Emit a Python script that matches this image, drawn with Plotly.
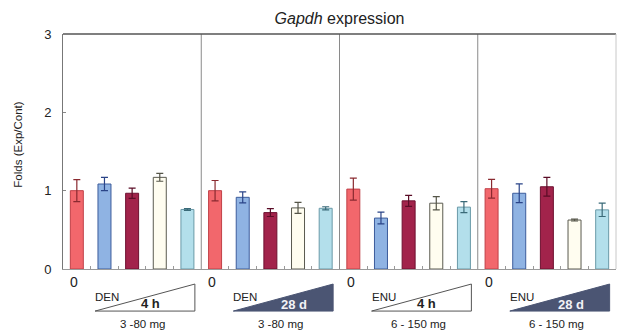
import plotly.graph_objects as go

# Panels: treatment x exposure time
panel_agents = ["DEN", "DEN", "ENU", "ENU"]
panel_times = ["4 h", "28 d", "4 h", "28 d"]
panel_doses = ["3 -80 mg", "3 -80 mg", "6 - 150 mg", "6 - 150 mg"]

# Fold change (Exp/Cont) per dose level, one value per panel
dose0 = [1.00, 1.00, 1.02, 1.025]
dose1 = [1.085, 0.915, 0.65, 0.967]
dose2 = [0.967, 0.72, 0.87, 1.05]
dose3 = [1.17, 0.78, 0.84, 0.625]
dose4 = [0.76, 0.775, 0.79, 0.755]

# Standard errors
err0 = [0.14, 0.13, 0.14, 0.12]
err1 = [0.085, 0.07, 0.075, 0.12]
err2 = [0.065, 0.05, 0.07, 0.12]
err3 = [0.05, 0.07, 0.085, 0.012]
err4 = [0.012, 0.02, 0.07, 0.085]

series = [dose0, dose1, dose2, dose3, dose4]
errors = [err0, err1, err2, err3, err4]

fills = ["#f2676c", "#8fb3e3", "#a2234b", "#fffdf0", "#b3dfeb"]
outlines = ["#c04048", "#3c5c9c", "#6e1030", "#5a5a50", "#6a9aa8"]
err_colors = ["#8a2a30", "#2a4488", "#5a0c26", "#555548", "#3a6a78"]

n_levels = len(series)
n_panels = len(panel_agents)

fig = go.Figure()
for i, (vals, errs) in enumerate(zip(series, errors)):
    xs = [p * n_levels + i for p in range(n_panels)]
    fig.add_trace(go.Bar(
        x=xs, y=vals, width=0.47,
        marker=dict(color=fills[i], line=dict(color=outlines[i], width=1)),
        error_y=dict(type="data", array=errs, color=err_colors[i],
                     thickness=1.2, width=3.5),
        showlegend=False,
    ))

shapes = []
annotations = []


def label(x, y, text, size, color="#222", xref="x"):
    annotations.append(dict(x=x, y=y, xref=xref, yref="paper", text=text,
                            showarrow=False, xanchor="center",
                            yanchor="middle",
                            font=dict(size=size, color=color)))


# panel dividers
for p in range(1, n_panels):
    xb = p * n_levels - 0.5
    shapes.append(dict(type="line", xref="x", yref="paper", x0=xb, x1=xb,
                       y0=0, y1=1, line=dict(color="#8a8a8a", width=1)))

for p in range(n_panels):
    base = p * n_levels
    x_left = base + 0.66
    x_right = base + 4.27
    y_low, y_high = -0.179, -0.064
    filled = panel_times[p] != "4 h"
    shapes.append(dict(
        type="path", xref="x", yref="paper", layer="below",
        path=f"M {x_left},{y_low} L {x_right},{y_low} L {x_right},{y_high} Z",
        fillcolor="#4b5573" if filled else "rgba(255,255,255,0)",
        line=dict(color="#4b5573" if filled else "#555555", width=1),
    ))
    label(base - 0.1, -0.055, "0", 14)
    label(base + 1.1, -0.12, panel_agents[p], 11.5)
    if filled:
        label(base + 2.86, -0.153, f"<b>{panel_times[p]}</b>", 13, "#f2f2f6")
    else:
        label(base + 2.65, -0.145, f"<b>{panel_times[p]}</b>", 13)
    label(base + 2.36, -0.232, panel_doses[p], 11.5)

annotations.append(dict(x=-0.081, y=0.53, xref="paper", yref="paper",
                        text="Folds (Exp/Cont)", textangle=-90,
                        xanchor="center", yanchor="middle",
                        showarrow=False, font=dict(size=11.5, color="#222")))

fig.update_layout(
    width=623, height=331,
    margin=dict(l=63, r=7, t=34, b=62),
    paper_bgcolor="white", plot_bgcolor="white",
    font=dict(family="Arial, Liberation Sans, sans-serif", color="#222"),
    title=dict(text="<i>Gapdh</i> expression", x=0.545, xanchor="center",
               y=0.945, yanchor="middle", font=dict(size=16, color="#222")),
    barmode="overlay",
    shapes=shapes,
    annotations=annotations,
    xaxis=dict(range=[-0.5, n_panels * n_levels - 0.5], showgrid=False,
               zeroline=False, showline=True, linecolor="#9a9a9a",
               linewidth=1, mirror=False,
               tickvals=[k + 0.5 for k in range(n_panels * n_levels - 1)
                         if (k + 1) % n_levels != 0],
               ticks="inside", ticklen=3, tickcolor="#999",
               showticklabels=False),
    yaxis=dict(range=[0, 3], tickvals=[0, 1, 2, 3], showgrid=False,
               zeroline=False, showline=True, linecolor="#777",
               linewidth=1, ticks="inside", ticklen=3, tickcolor="#888",
               ticklabelstandoff=8, tickfont=dict(size=13, color="#222")),
)
# top border (darker) and right border (faint)
fig.add_shape(type="line", xref="paper", yref="paper", x0=0, x1=1, y0=1, y1=1,
              line=dict(color="#555", width=1.5))
fig.add_shape(type="line", xref="paper", yref="paper", x0=1, x1=1, y0=0, y1=1,
              line=dict(color="#c8c8c8", width=1))

fig.write_html("out.html")
